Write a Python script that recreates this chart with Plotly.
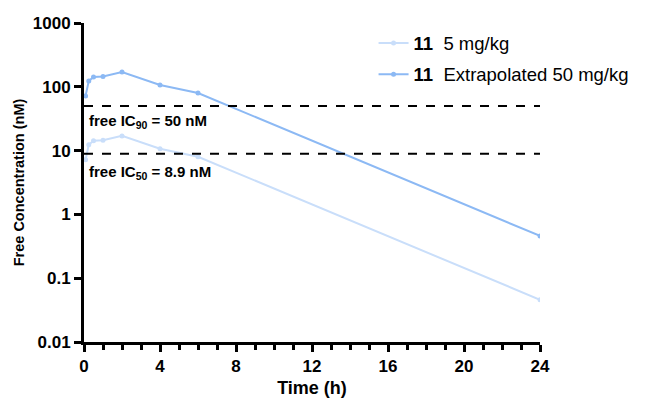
import math
import plotly.graph_objects as go

time_h = [0.083, 0.25, 0.5, 1, 2, 4, 6, 24]
conc_5 = [7.2, 12.3, 14.3, 14.5, 17.0, 10.7, 8.0, 0.046]
conc_50 = [72, 123, 143, 145, 170, 107, 80, 0.46]
ic90 = 50
ic50 = 8.9
y_ticks = [0.01, 0.1, 1, 10, 100, 1000]
y_tick_labels = ["0.01", "0.1", "1", "10", "100", "1000"]
x_ticks = [0, 4, 8, 12, 16, 20, 24]

light = "#c9defa"
dark = "#8cb9f4"

fig = go.Figure()
fig.add_trace(go.Scatter(x=time_h, y=conc_5, mode="lines+markers",
                         name="<b>11</b>&nbsp;&nbsp;5 mg/kg", legendgroup="a",
                         line=dict(color=light, width=2),
                         marker=dict(color=light, size=5)))
fig.add_trace(go.Scatter(x=time_h, y=conc_50, mode="lines+markers",
                         name="<b>11</b>&nbsp;&nbsp;Extrapolated 50 mg/kg", legendgroup="b",
                         line=dict(color=dark, width=2),
                         marker=dict(color=dark, size=5)))
for v in [ic90, ic50]:
    fig.add_trace(go.Scatter(x=[0, 24], y=[v, v], mode="lines", showlegend=False,
                             line=dict(color="black", width=2, dash="dash"),
                             hoverinfo="skip"))

fig.add_annotation(x=0.15, y=math.log10(ic90), text="<b>free IC<sub>90</sub> = 50 nM</b>",
                   showarrow=False, xanchor="left", yanchor="top", yshift=-4,
                   font=dict(family="Liberation Sans", size=15, color="black"))
fig.add_annotation(x=0.15, y=math.log10(ic50), text="<b>free IC<sub>50</sub> = 8.9 nM</b>",
                   showarrow=False, xanchor="left", yanchor="top", yshift=-7,
                   font=dict(family="Liberation Sans", size=15, color="black"))

fig.update_layout(
    width=643, height=399,
    margin=dict(l=76, r=111, t=15, b=65),
    plot_bgcolor="white", paper_bgcolor="white",
    font=dict(family="Liberation Sans", color="black"),
    legend=dict(x=0.635, y=0.995, xanchor="left", yanchor="top",
                font=dict(size=18.5, family="Liberation Sans"),
                bgcolor="rgba(0,0,0,0)", itemwidth=30, tracegroupgap=4,
                borderwidth=0),
    xaxis=dict(range=[0, 24], tickvals=x_ticks, ticktext=[str(t) for t in x_ticks],
               showline=True, linecolor="black", linewidth=3, ticks="outside",
               ticklen=7, tickwidth=3, tickcolor="black", showgrid=False, zeroline=False,
               automargin=False,
               tickfont=dict(size=17, family="Liberation Sans", weight="bold"),
               minor=dict(dtick=1, ticks="outside", ticklen=5, tickwidth=3, tickcolor="black"),
               title=dict(text="<b>Time (h)</b>", font=dict(size=18), standoff=6)),
    yaxis=dict(type="log", range=[-2, 3], tickvals=y_ticks, ticktext=y_tick_labels,
               showline=True, linecolor="black", linewidth=3, ticks="outside",
               ticklen=7, tickwidth=3, tickcolor="black", showgrid=False, zeroline=False,
               automargin=False,
               tickfont=dict(size=17, family="Liberation Sans", weight="bold"),
               title=dict(text="<b>Free Concentration (nM)</b>", font=dict(size=14.5), standoff=5)),
)

fig.write_html("out.html")
